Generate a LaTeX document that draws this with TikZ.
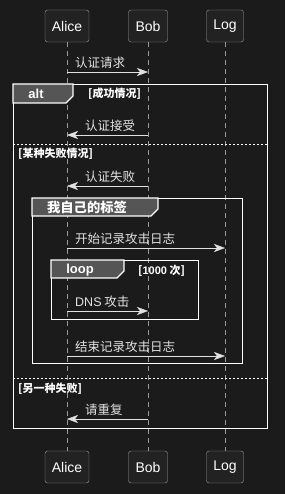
\documentclass[tikz,border=0pt]{standalone}
\usepackage{fontspec}
\setmainfont{Liberation Sans}
\newfontfamily\cjk{Noto Sans CJK SC}
\usepackage{xcolor}
\usepackage{tikz}
\usetikzlibrary{arrows.meta,positioning,calc}
\definecolor{bgdark}{HTML}{1B1B1B}
\definecolor{boxdark}{HTML}{222222}
\definecolor{tabgray}{HTML}{555555}
\definecolor{inkgray}{HTML}{E2E2E2}
\begin{document}
\begin{tikzpicture}[
    x=1pt, y=-1pt,
    actor/.style={draw=gray!75, rounded corners=2.5pt, fill=boxdark, text=white, minimum height=32pt, inner xsep=4pt, font=\fontsize{14}{16}\selectfont},
    life/.style={draw=gray!80, dash pattern=on 5pt off 4pt},
    msg/.style={draw=inkgray, -{Stealth[length=11pt, width=8pt, inset=3pt]}},
    lbl/.style={text=inkgray, anchor=west, inner sep=0pt, font=\cjk\fontsize{12.5}{14}\selectfont},
    frame/.style={draw=white, line width=1.3pt, anchor=north west, inner sep=0pt},
    tab/.style={draw=white, line width=1.1pt, fill=tabgray},
    tabtxt/.style={text=white, font=\bfseries\fontsize{13}{15}\selectfont},
    guard/.style={text=white, anchor=west, inner sep=0pt, font=\cjk\bfseries\fontsize{11}{13}\selectfont},
    sep/.style={draw=white, dash pattern=on 2pt off 2pt}
]
\useasboundingbox[fill=bgdark] (0,0) rectangle (285,494);

% participants
\node[actor, minimum width=44pt] (aliceT) at (67,26) {Alice};
\node[actor, minimum width=39pt] (bobT) at (148,26) {Bob};
\node[actor, minimum width=37pt] (logT) at (225,26) {Log};
\node[actor, minimum width=44pt] (aliceB) at (67,467) {Alice};
\node[actor, minimum width=39pt] (bobB) at (148,467) {Bob};
\node[actor, minimum width=37pt] (logB) at (225,467) {Log};

\draw[life] (aliceT) -- (aliceB);
\draw[life] (bobT) -- (bobB);
\draw[life] (logT) -- (logB);

% frames
\node[frame, minimum width=254pt, minimum height=344pt] (altbox) at (13,84) {};
\node[frame, minimum width=210pt, minimum height=165pt] (grpbox) at (32,198) {};
\node[frame, minimum width=147pt, minimum height=59pt] (loopbox) at (51,260) {};

\draw[tab] (altbox.north west) -- ++(60,0) -- ++(0,12) -- ++(-7,7) -- ++(-53,0) -- cycle;
\draw[tab] (grpbox.north west) -- ++(126,0) -- ++(0,11) -- ++(-7,7) -- ++(-119,0) -- cycle;
\draw[tab] (loopbox.north west) -- ++(73,0) -- ++(0,11) -- ++(-7,7) -- ++(-66,0) -- cycle;

\node[tabtxt] (altlbl) at (36,94) {alt};
\node[tabtxt, font=\cjk\bfseries\fontsize{13.3}{15}\selectfont] (grplbl) at (87,207) {我自己的标签};
\node[tabtxt] (looplbl) at (80,270) {loop};

\node[guard] (g1) at (88,94) {[成功情况]};
\node[guard] (g2) at (18,154) {[某种失败情况]};
\node[guard] (g3) at (138,271) {[{\rmfamily\bfseries 1000} 次]};
\node[guard] (g4) at (18,389) {[另一种失败]};

\draw[sep] (altbox.west |- 0,144) -- (altbox.east |- 0,144);
\draw[sep] (altbox.west |- 0,378) -- (altbox.east |- 0,378);

% messages
\coordinate (r1) at (0,72);
\coordinate (r2) at (0,135);
\coordinate (r3) at (0,186);
\coordinate (r4) at (0,248);
\coordinate (r5) at (0,311);
\coordinate (r6) at (0,356);
\coordinate (r7) at (0,419);

\draw[msg] (aliceT |- r1) -- (bobT |- r1);
\node[lbl] (m1) at (75,63) {认证请求};
\draw[msg] (bobT |- r2) -- (aliceT |- r2);
\node[lbl] (m2) at (85,126) {认证接受};
\draw[msg] (bobT |- r3) -- (aliceT |- r3);
\node[lbl] (m3) at (85,177) {认证失败};
\draw[msg] (aliceT |- r4) -- (logT |- r4);
\node[lbl] (m4) at (75,239) {开始记录攻击日志};
\draw[msg] (aliceT |- r5) -- (bobT |- r5);
\node[lbl] (m5) at (75,302) {{\rmfamily DNS} 攻击};
\draw[msg] (aliceT |- r6) -- (logT |- r6);
\node[lbl] (m6) at (75,347) {结束记录攻击日志};
\draw[msg] (bobT |- r7) -- (aliceT |- r7);
\node[lbl] (m7) at (85,410) {请重复};
\end{tikzpicture}
\end{document}
